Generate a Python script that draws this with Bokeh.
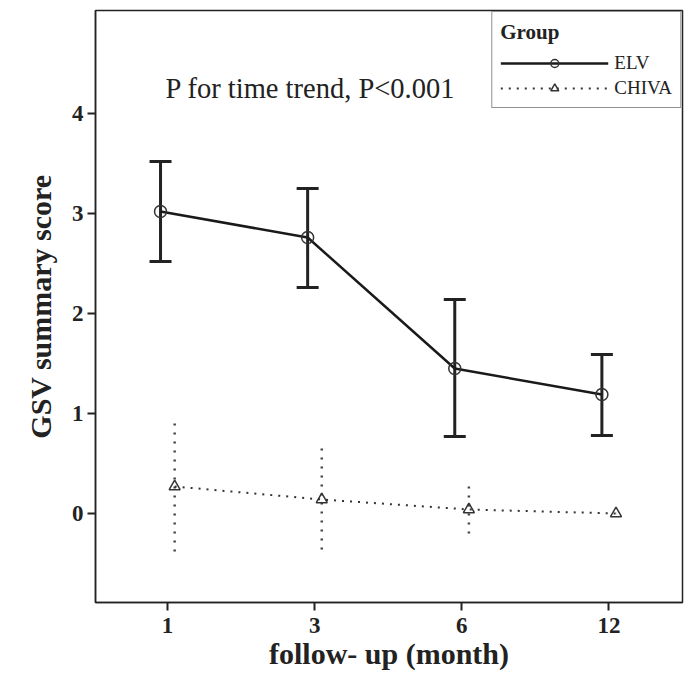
from bokeh.plotting import figure
from bokeh.models import (ColumnDataSource, Legend, LegendItem, Label, Whisker, TeeHead,
                          FixedTicker, Range1d)
from bokeh.transform import dodge
from bokeh.embed import file_html
from bokeh.resources import INLINE

# ---- data ----
months = ["1", "3", "6", "12"]
pos = [1, 2, 3, 4]
elv_mean = [3.02, 2.76, 1.45, 1.19]
elv_upper = [3.52, 3.25, 2.14, 1.59]
elv_lower = [2.52, 2.26, 0.77, 0.78]
chiva_mean = [0.27, 0.14, 0.04, 0.0]
chiva_upper = [0.97, 0.70, 0.33, 0.0]
chiva_lower = [-0.38, -0.36, -0.20, 0.0]

elv = ColumnDataSource(dict(x=pos, y=elv_mean, up=elv_upper, lo=elv_lower))
chiva = ColumnDataSource(dict(x=pos, y=chiva_mean, up=chiva_upper, lo=chiva_lower))

FONT = "Liberation Serif"

p = figure(width=686, height=680, output_backend="svg", toolbar_location=None,
           x_range=Range1d(0.51, 4.50), y_range=Range1d(-0.89, 5.03),
           min_border_left=95, min_border_right=4, min_border_top=10, min_border_bottom=78)
p.background_fill_color = "white"
p.border_fill_color = "white"
p.grid.visible = False
p.outline_line_color = "#222222"
p.outline_line_width = 1.5

# axes
p.xaxis.ticker = FixedTicker(ticks=pos)
p.xaxis.major_label_overrides = {k: v for k, v in zip(pos, months)}
p.yaxis.ticker = FixedTicker(ticks=[0, 1, 2, 3, 4])
for ax in (p.xaxis[0], p.yaxis[0]):
    ax.axis_line_color = "#222222"
    ax.axis_line_width = 1.5
    ax.major_tick_line_color = "#222222"
    ax.major_tick_line_width = 2
    ax.major_tick_out = 8
    ax.major_tick_in = 0
    ax.minor_tick_line_color = None
    ax.major_label_text_font = FONT
    ax.major_label_text_font_size = "23px"
    ax.major_label_text_font_style = "bold"
    ax.major_label_text_color = "#222222"
    ax.axis_label_text_font = FONT
    ax.axis_label_text_font_size = "30px"
    ax.axis_label_text_font_style = "bold"
    ax.axis_label_text_color = "#222222"
p.xaxis.axis_label = "follow- up (month)"
p.yaxis.axis_label = "GSV summary score"
p.xaxis.major_label_standoff = 7
p.yaxis.major_label_standoff = 4
p.xaxis.axis_label_standoff = 1
p.yaxis.axis_label_standoff = 12

# ELV
p.add_layout(Whisker(source=elv, base=dodge("x", -0.048), upper="up", lower="lo",
                     line_color="#222222", line_width=3,
                     upper_head=TeeHead(size=22, line_width=3, line_color="#222222"),
                     lower_head=TeeHead(size=22, line_width=3, line_color="#222222")))
elv_line = p.line(x=dodge("x", -0.048), y="y", source=elv, line_color="#1a1a1a", line_width=2.5)
elv_pts = p.scatter(x=dodge("x", -0.048), y="y", source=elv, marker="circle", size=12,
                    fill_color="white", fill_alpha=0.0, line_color="#333333", line_width=1.5)

# CHIVA
p.segment(x0=dodge("x", 0.048), y0="lo", x1=dodge("x", 0.048), y1="up", source=chiva,
          line_color="#444444", line_width=2.5, line_dash="2 7")
chiva_line = p.line(x=dodge("x", 0.048), y="y", source=chiva, line_color="#333333",
                    line_width=2, line_dash="2 6")
chiva_pts = p.scatter(x=dodge("x", 0.048), y="y", source=chiva, marker="triangle", size=11,
                      fill_color="white", fill_alpha=0.0, line_color="#333333", line_width=1.5)

# annotation
p.add_layout(Label(x=0.986, y=4.25, text="P for time trend, P<0.001", text_font=FONT,
                   text_font_size="28.5px", text_baseline="middle", text_color="#222222"))

legend = Legend(items=[LegendItem(label="ELV", renderers=[elv_line, elv_pts]),
                       LegendItem(label="CHIVA", renderers=[chiva_line, chiva_pts])],
                location="top_right", title="Group")
legend.margin = 1
legend.padding = 8
legend.border_line_color = "#222222"
legend.border_line_width = 1.5
legend.background_fill_color = "white"
legend.background_fill_alpha = 1.0
legend.glyph_width = 108
legend.glyph_height = 20
legend.spacing = 3
legend.label_standoff = 6
legend.label_text_font = FONT
legend.label_text_font_size = "19px"
legend.label_text_color = "#222222"
legend.title_text_font = FONT
legend.title_text_font_size = "21px"
legend.title_text_font_style = "bold"
legend.title_text_color = "#222222"
legend.title_standoff = 7
p.add_layout(legend)

open("out.html", "w").write(file_html(p, INLINE))
